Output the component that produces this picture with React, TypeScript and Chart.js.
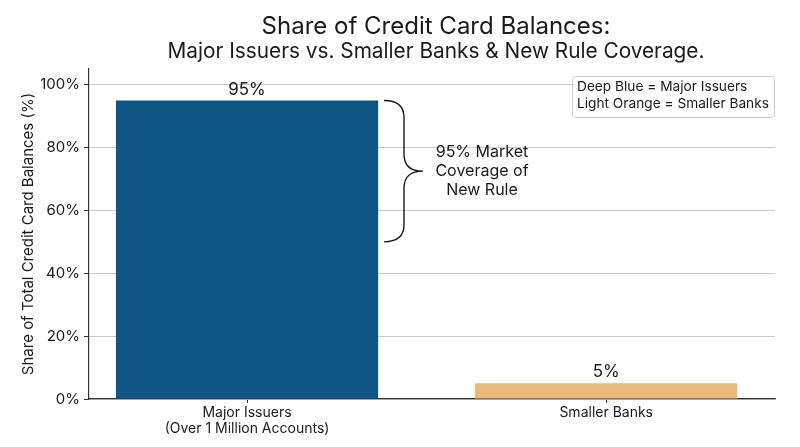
import { useEffect, useRef } from "react";
import { Chart, registerables } from "chart.js";

Chart.register(...registerables);

const categories = [["Major Issuers", "(Over 1 Million Accounts)"], ["Smaller Banks"]];
const positions = [0, 1];
const shares = [95, 5];
const barColors = ["#0f5687", "#ebb979"];
const yTicks = [0, 20, 40, 60, 80, 100];
const legendLines = ["Deep Blue = Major Issuers", "Light Orange = Smaller Banks"];
const braceRange = [95, 50];
const braceText = ["95% Market", "Coverage of", "New Rule"];
const titleLines = ["Share of Credit Card Balances:", "Major Issuers vs. Smaller Banks & New Rule Coverage."];

const FONT = "Inter, sans-serif";
const INK = "#1a1a1a";

const annotations = {
  id: "annotations",
  afterDatasetsDraw(chart: Chart) {
    const { ctx, chartArea } = chart;
    const y = chart.scales.y;
    ctx.save();

    // titles
    ctx.fillStyle = INK;
    ctx.textAlign = "center";
    ctx.textBaseline = "middle";
    const cx = (chartArea.left + chartArea.right) / 2 + 4;
    ctx.font = `24px ${FONT}`;
    ctx.fillText(titleLines[0], cx, 27);
    ctx.font = `20.8px ${FONT}`;
    ctx.fillText(titleLines[1], cx, 52);

    // value labels
    ctx.font = `17px ${FONT}`;
    const meta = chart.getDatasetMeta(0);
    meta.data.forEach((bar: any, i) => {
      ctx.fillText(`${shares[i]}%`, bar.x, bar.y - 11);
    });

    // brace
    const top = y.getPixelForValue(braceRange[0]);
    const bottom = y.getPixelForValue(braceRange[1]);
    const mid = (top + bottom) / 2;
    const x0 = 384;
    const xv = 404;
    const xt = 423;
    const r = 17;
    ctx.strokeStyle = INK;
    ctx.lineWidth = 1.4;
    ctx.beginPath();
    ctx.moveTo(x0, top);
    ctx.quadraticCurveTo(xv, top, xv, top + r);
    ctx.lineTo(xv, mid - r);
    ctx.quadraticCurveTo(xv, mid, xt, mid);
    ctx.quadraticCurveTo(xv, mid, xv, mid + r);
    ctx.lineTo(xv, bottom - r);
    ctx.quadraticCurveTo(xv, bottom, x0, bottom);
    ctx.stroke();

    ctx.font = `16px ${FONT}`;
    braceText.forEach((t, i) => {
      ctx.fillText(t, 482, mid - 19 + i * 19);
    });

    // legend box
    const bx = 572;
    const by = 76;
    const bw = 202;
    const bh = 41;
    ctx.fillStyle = "#ffffff";
    ctx.strokeStyle = "#cccccc";
    ctx.lineWidth = 1;
    ctx.beginPath();
    ctx.roundRect(bx + 0.5, by + 0.5, bw, bh, 3);
    ctx.fill();
    ctx.stroke();
    ctx.fillStyle = INK;
    ctx.textAlign = "left";
    ctx.font = `13.7px ${FONT}`;
    legendLines.forEach((t, i) => {
      ctx.fillText(t, bx + 5, by + 11 + i * 17);
    });

    ctx.restore();
  },
};

export default function App() {
  const canvasRef = useRef<HTMLCanvasElement>(null);
  const chartRef = useRef<Chart | null>(null);

  useEffect(() => {
    const canvas = canvasRef.current;
    if (!canvas) return;
    if (chartRef.current) chartRef.current.destroy();

    chartRef.current = new Chart(canvas, {
      type: "bar",
      data: {
        datasets: [
          {
            data: positions.map((p, i) => ({ x: p, y: shares[i] })),
            backgroundColor: barColors,
            borderWidth: 0,
            barPercentage: 0.73,
            categoryPercentage: 1,
          },
        ],
      },
      options: {
        animation: false,
        responsive: true,
        maintainAspectRatio: false,
        layout: { padding: { top: 69, right: 25, bottom: 0, left: 0 } },
        plugins: {
          legend: { display: false },
          title: { display: false },
          tooltip: { enabled: false },
        },
        scales: {
          x: {
            type: "linear",
            min: -0.44,
            max: 1.47,
            offset: false,
            afterBuildTicks(scale: any) {
              scale.ticks = positions.map((v) => ({ value: v }));
            },
            afterFit(scale: any) {
              scale.height = 48;
            },
            grid: {
              drawOnChartArea: false,
              offset: false,
              tickColor: "#333333",
              tickLength: 4,
            },
            border: { color: "#333333", width: 1.2 },
            ticks: {
              color: INK,
              font: { size: 14, family: FONT },
              padding: 1,
              maxRotation: 0,
              autoSkip: false,
              callback(_v: any, i: number) {
                return categories[i];
              },
            },
          },
          y: {
            min: 0,
            max: 105,
            afterBuildTicks(scale: any) {
              scale.ticks = yTicks.map((v) => ({ value: v }));
            },
            afterFit(scale: any) {
              scale.width = 89;
            },
            grid: {
              color: "#cccccc",
              tickColor: "#333333",
              tickLength: 5,
            },
            border: { color: "#333333", width: 1.2 },
            ticks: {
              color: INK,
              font: { size: 15, family: FONT },
              padding: 4,
              callback(v: any) {
                return `${v}%`;
              },
            },
            title: {
              display: true,
              text: "Share of Total Credit Card Balances (%)",
              color: INK,
              font: { size: 15, family: FONT },
              padding: { top: 19, bottom: 0 },
            },
          },
        },
      },
      plugins: [annotations],
    });

    return () => {
      chartRef.current?.destroy();
      chartRef.current = null;
    };
  }, []);

  return (
    <div style={{ position: "fixed", left: 0, top: 0, width: 800, height: 447, background: "#fff" }}>
      <canvas ref={canvasRef} />
    </div>
  );
}
